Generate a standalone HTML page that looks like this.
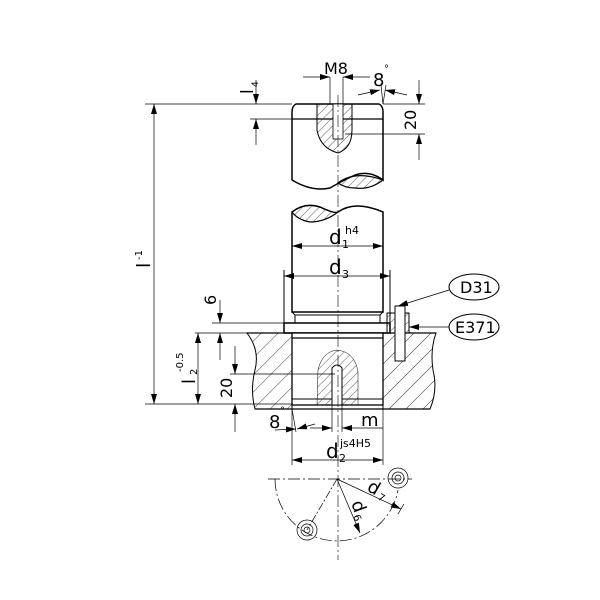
<!DOCTYPE html>
<html><head><style>html,body{margin:0;padding:0;background:#fff}svg{display:block}</style></head><body>
<svg width="600" height="600" viewBox="0 0 600 600" xmlns="http://www.w3.org/2000/svg" font-family="DejaVu Sans, Liberation Sans, sans-serif">
<defs>
<pattern id="h" patternUnits="userSpaceOnUse" width="6" height="6" patternTransform="rotate(45)"><line x1="0" y1="0" x2="0" y2="6" stroke="#333" stroke-width="0.8"/></pattern>
<pattern id="h2" patternUnits="userSpaceOnUse" width="12" height="12" patternTransform="rotate(45)"><line x1="0" y1="0" x2="0" y2="12" stroke="#222" stroke-width="0.9"/></pattern>
<marker id="a" markerWidth="10" markerHeight="6" refX="10" refY="3" orient="auto-start-reverse" markerUnits="userSpaceOnUse"><path d="M0,0 L10,3 L0,6z" fill="#000"/></marker>
</defs>
<g stroke="#000" fill="none">
<!-- upper shaft -->
<path d="M296,104 L379,104 Q383,106 383,112 L383,180 Q370,170 355,175 Q340,182 330,188 Q312,192 292,180 L292,112 Q292,106 296,104z" stroke-width="1.5" fill="#fff"/>
<path d="M338,183 Q355,170 383,180 Q370,190 355,188 Q345,188 338,183z" fill="url(#h)" stroke-width="1.2"/>
<line x1="292" y1="119" x2="383" y2="119" stroke-width="1.2"/>
<path d="M317,104 L317,130 Q320,148 338,153 Q352,148 352,130 L352,104z" fill="url(#h)" stroke-width="1"/>
<rect x="333" y="104" width="10" height="35" fill="#fff" stroke-width="0.8"/>
<!-- lower shaft -->
<path d="M292,212 Q305,202 320,207 Q335,214 338,212 Q355,200 383,212 L383,312 L292,312z" fill="#fff" stroke-width="1.5"/>
<path d="M292,212 Q305,202 320,207 Q335,214 338,212 Q325,222 310,222 Q298,220 292,212z" fill="url(#h)" stroke-width="1.2"/>
<!-- collar -->
<line x1="284" y1="270" x2="284" y2="323" stroke-width="1"/>
<line x1="390" y1="270" x2="390" y2="323" stroke-width="1"/>
<path d="M292,312 L295,315 L295,323 M383,312 L380,315 L380,323 M295,315 L380,315" stroke-width="1"/>
<rect x="284" y="323" width="106" height="10" stroke-width="1.5" fill="#fff"/>
<!-- housing -->
<path d="M247,333 L292,333 L292,409 L255,409 Q250,390 255,370 Q260,350 247,333z" fill="url(#h2)" stroke-width="1"/>
<path d="M383,333 L436,333 Q430,350 433,370 Q438,390 430,409 L383,409z" fill="url(#h2)" stroke-width="1"/>
<line x1="247" y1="333" x2="436" y2="333" stroke-width="1.3"/>
<rect x="292" y="333" width="91" height="72" fill="#fff" stroke-width="1.3"/>
<line x1="292" y1="338" x2="383" y2="338" stroke-width="1.2"/>
<line x1="292" y1="399" x2="383" y2="399" stroke-width="1"/>
<line x1="255" y1="409" x2="430" y2="409" stroke-width="1.3"/>
<path d="M317,405 L318,370 Q322,352 337,350 Q355,352 358,372 L358,405z" fill="url(#h)" stroke-width="0.5"/>
<path d="M332,405 L332,368 Q337,362 342,368 L342,405z" fill="#fff" stroke-width="1"/>
<!-- screw -->
<rect x="387" y="313" width="22" height="20" fill="url(#h)" stroke-width="1"/>
<rect x="395" y="306" width="10" height="55" fill="#fff" stroke-width="1"/>
<!-- centre line -->
<line x1="338" y1="95" x2="338" y2="560" stroke-width="0.6" stroke-dasharray="12,3,2,3"/>
<!-- dims -->
<g stroke-width="0.7">
<line x1="145" y1="104" x2="292" y2="104"/>
<line x1="154" y1="104" x2="154" y2="404" marker-start="url(#a)" marker-end="url(#a)"/>
<line x1="145" y1="404" x2="292" y2="404"/>
<line x1="250" y1="119" x2="292" y2="119"/>
<line x1="256" y1="80" x2="256" y2="104" marker-end="url(#a)"/>
<line x1="256" y1="119" x2="256" y2="145" marker-start="url(#a)"/>
<line x1="303" y1="77" x2="330" y2="77" marker-end="url(#a)"/>
<line x1="343" y1="77" x2="370" y2="77" marker-start="url(#a)"/>
<line x1="330" y1="77" x2="330" y2="104"/><line x1="343" y1="77" x2="343" y2="104"/>
<line x1="358" y1="95" x2="380" y2="90" marker-end="url(#a)"/>
<line x1="407" y1="95" x2="385" y2="90" marker-end="url(#a)"/>
<line x1="383" y1="104" x2="381" y2="85"/><line x1="383" y1="104" x2="386" y2="85"/>
<line x1="383" y1="104" x2="425" y2="104"/><line x1="345" y1="134" x2="425" y2="134"/>
<line x1="419" y1="80" x2="419" y2="104" marker-end="url(#a)"/>
<line x1="419" y1="134" x2="419" y2="160" marker-start="url(#a)"/>
<line x1="292" y1="246" x2="383" y2="246" marker-start="url(#a)" marker-end="url(#a)"/>
<line x1="284" y1="276" x2="390" y2="276" marker-start="url(#a)" marker-end="url(#a)"/>
<line x1="212" y1="323" x2="284" y2="323"/><line x1="195" y1="333" x2="247" y2="333"/>
<line x1="220" y1="300" x2="220" y2="323" marker-end="url(#a)"/>
<line x1="220" y1="333" x2="220" y2="360" marker-start="url(#a)"/>
<line x1="198" y1="333" x2="198" y2="404" marker-start="url(#a)" marker-end="url(#a)"/>
<line x1="230" y1="374" x2="335" y2="374"/>
<line x1="235" y1="346" x2="235" y2="374" marker-end="url(#a)"/>
<line x1="235" y1="404" x2="235" y2="432" marker-start="url(#a)"/>
<line x1="292" y1="409" x2="292" y2="465"/><line x1="383" y1="409" x2="383" y2="465"/>
<line x1="332" y1="405" x2="332" y2="432"/><line x1="342" y1="405" x2="342" y2="432"/>
<line x1="292" y1="460" x2="383" y2="460" marker-start="url(#a)" marker-end="url(#a)"/>
<line x1="310" y1="428" x2="332" y2="428" marker-end="url(#a)"/>
<line x1="383" y1="428" x2="342" y2="428" marker-end="url(#a)"/>
<line x1="292" y1="409" x2="296" y2="432"/>
<line x1="275" y1="430" x2="296" y2="429" marker-end="url(#a)"/>
<line x1="315" y1="424" x2="297" y2="429" marker-end="url(#a)"/>
<line x1="449" y1="290" x2="398" y2="306" marker-end="url(#a)"/>
<line x1="449" y1="327" x2="409" y2="327" marker-end="url(#a)"/>
</g>
<ellipse cx="474" cy="287" rx="25" ry="13" stroke-width="1"/>
<ellipse cx="474" cy="327" rx="25" ry="13" stroke-width="1"/>
<!-- bolt circle -->
<g stroke-width="0.7">
<line x1="268" y1="479" x2="412" y2="479" stroke-dasharray="12,3,2,3"/>
<path d="M275,479 A62,62 0 0 0 398,490" stroke-dasharray="12,3,2,3"/>
<line x1="337" y1="479" x2="307" y2="530" stroke-dasharray="8,2,2,2"/>
<line x1="337" y1="479" x2="401" y2="509" marker-end="url(#a)"/>
<line x1="398" y1="514" x2="404" y2="504"/>
<line x1="337" y1="479" x2="360" y2="533" marker-end="url(#a)"/>
<circle cx="398" cy="478" r="10"/><circle cx="398" cy="478" r="6"/><circle cx="398" cy="478" r="3"/>
<circle cx="307" cy="530" r="10"/><circle cx="307" cy="530" r="6"/><circle cx="307" cy="530" r="3"/>
</g>
</g>
<g fill="#000" font-size="16">
<text x="324" y="74">M8</text>
<text x="373" y="86" font-size="18">8</text><text x="384" y="72" font-size="10">°</text>
<text x="0" y="0" transform="translate(416,130) rotate(-90)">20</text>
<text x="0" y="0" transform="translate(253,94) rotate(-90)" font-size="17">l</text><text x="0" y="0" transform="translate(258,87) rotate(-90)" font-size="9">4</text>
<text x="0" y="0" transform="translate(150,268) rotate(-90)" font-size="19">l</text><text x="0" y="0" transform="translate(142,260) rotate(-90)" font-size="10">-1</text>
<text x="329" y="244" font-size="20">d</text><text x="342" y="248" font-size="11">1</text><text x="345" y="234" font-size="11">h4</text>
<text x="329" y="274" font-size="20">d</text><text x="342" y="278" font-size="11">3</text>
<text x="0" y="0" transform="translate(216,305) rotate(-90)">6</text>
<text x="0" y="0" transform="translate(195,384) rotate(-90)" font-size="18">l</text><text x="0" y="0" transform="translate(197,375) rotate(-90)" font-size="10">2</text><text x="0" y="0" transform="translate(183,372) rotate(-90)" font-size="10">-0.5</text>
<text x="0" y="0" transform="translate(232,398) rotate(-90)">20</text>
<text x="269" y="428" font-size="18">8</text><text x="280" y="414" font-size="10">°</text>
<text x="361" y="426" font-size="18">m</text>
<text x="326" y="458" font-size="20">d</text><text x="339" y="462" font-size="11">2</text><text x="340" y="447" font-size="11">js4H5</text>
<text x="0" y="0" transform="translate(366,490) rotate(30)" font-size="18">d</text><text x="0" y="0" transform="translate(377,499) rotate(30)" font-size="10">7</text>
<text x="0" y="0" transform="translate(351,503) rotate(70)" font-size="18">d</text><text x="0" y="0" transform="translate(353,516) rotate(70)" font-size="10">6</text>
<text x="460" y="293">D31</text>
<text x="455" y="333">E371</text>
</g>
</svg>
</body></html>
